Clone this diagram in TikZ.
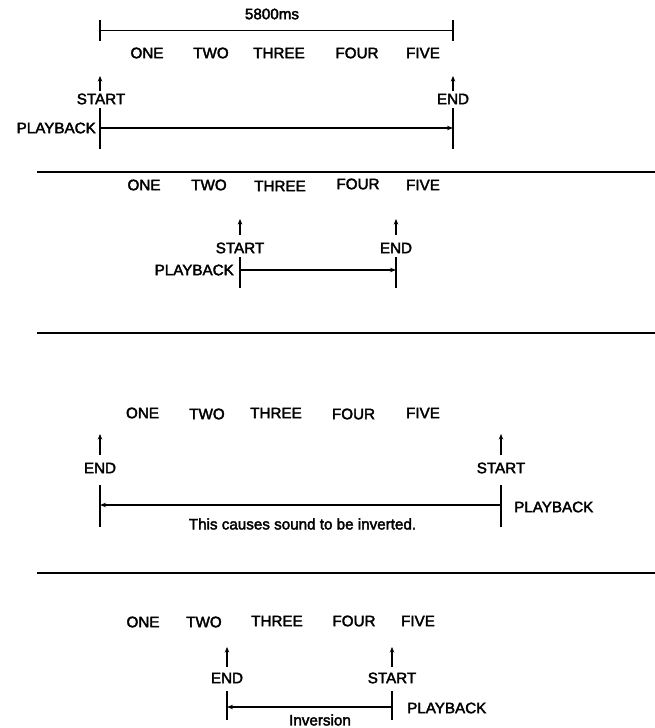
\documentclass[tikz,border=0pt]{standalone}
\usepackage{fontspec}
\setmainfont{Liberation Sans}
\newfontfamily\labelfont{Liberation Sans}[FakeBold=2.5]
\usetikzlibrary{arrows.meta}
\begin{document}
\begin{tikzpicture}[x=1pt,y=-1pt,
  lbl/.style={inner sep=0pt, font=\labelfont\fontsize{15.2}{17}\selectfont},
  tickline/.style={line width=1.3pt},
  scaleline/.style={line width=1pt},
  flow/.style={line width=1.3pt,-{Stealth[length=6pt,width=4.5pt]}},
  uparrow/.style={line width=1.3pt,-{Stealth[length=5.5pt,width=4.5pt]}},
  sepline/.style={line width=1.4pt}]
\useasboundingbox (0,0) rectangle (655,728);

% ---------- Panel 1 ----------
\node[lbl] (ms) at (272,14) {5800ms};
\coordinate (t1lt) at (100,20); \coordinate (t1lb) at (100,41);
\coordinate (t1rt) at (453,20); \coordinate (t1rb) at (453,41);
\coordinate (t1l) at (100,30); \coordinate (t1r) at (453,30);
\draw[tickline] (t1lt) -- (t1lb);
\draw[tickline] (t1rt) -- (t1rb);
\draw[scaleline] (t1l) -- (t1r);
\node[lbl] (p1one) at (147,53) {ONE};
\node[lbl] (p1two) at (211,53) {TWO};
\node[lbl] (p1three) at (279,53) {THREE};
\node[lbl] (p1four) at (357,53) {FOUR};
\node[lbl] (p1five) at (423,53) {FIVE};
\node[lbl] (p1start) at (101,99) {START};
\node[lbl] (p1end) at (453,99) {END};
\coordinate (u1a) at (100,91); \coordinate (u1at) at (100,76);
\coordinate (u1b) at (453,91); \coordinate (u1bt) at (453,76);
\draw[uparrow] (u1a) -- (u1at);
\draw[uparrow] (u1b) -- (u1bt);
\coordinate (v1lt) at (100,108); \coordinate (v1lb) at (100,149);
\coordinate (v1rt) at (453,108); \coordinate (v1rb) at (453,149);
\draw[tickline] (v1lt) -- (v1lb);
\draw[tickline] (v1rt) -- (v1rb);
\coordinate (f1s) at (100,128); \coordinate (f1e) at (453,128);
\draw[flow] (f1s) -- (f1e);
\node[lbl, anchor=east] (p1pb) at (96,128) {PLAYBACK};

\coordinate (sep1l) at (37,172); \coordinate (sep1r) at (655,172);
\draw[sepline] (sep1l) -- (sep1r);

% ---------- Panel 2 ----------
\node[lbl] (p2one) at (144,185) {ONE};
\node[lbl] (p2two) at (209,185) {TWO};
\node[lbl] (p2three) at (280,186) {THREE};
\node[lbl] (p2four) at (358,184) {FOUR};
\node[lbl] (p2five) at (423,185) {FIVE};
\coordinate (u2a) at (240,235); \coordinate (u2at) at (240,219);
\coordinate (u2b) at (396,235); \coordinate (u2bt) at (396,219);
\draw[uparrow] (u2a) -- (u2at);
\draw[uparrow] (u2b) -- (u2bt);
\node[lbl] (p2start) at (240,248) {START};
\node[lbl] (p2end) at (396,248) {END};
\coordinate (v2lt) at (240,257); \coordinate (v2lb) at (240,288);
\coordinate (v2rt) at (396,257); \coordinate (v2rb) at (396,288);
\draw[tickline] (v2lt) -- (v2lb);
\draw[tickline] (v2rt) -- (v2rb);
\coordinate (f2s) at (240,270); \coordinate (f2e) at (396,270);
\draw[flow] (f2s) -- (f2e);
\node[lbl, anchor=east] (p2pb) at (234,270) {PLAYBACK};

\coordinate (sep2l) at (37,333); \coordinate (sep2r) at (655,333);
\draw[sepline] (sep2l) -- (sep2r);

% ---------- Panel 3 ----------
\node[lbl] (p3one) at (142.5,413) {ONE};
\node[lbl] (p3two) at (207,414) {TWO};
\node[lbl] (p3three) at (276,413) {THREE};
\node[lbl] (p3four) at (353.5,414) {FOUR};
\node[lbl] (p3five) at (423,413) {FIVE};
\coordinate (u3a) at (100,455); \coordinate (u3at) at (100,434);
\coordinate (u3b) at (501,455); \coordinate (u3bt) at (501,434);
\draw[uparrow] (u3a) -- (u3at);
\draw[uparrow] (u3b) -- (u3bt);
\node[lbl] (p3end) at (100,468) {END};
\node[lbl] (p3start) at (501,468) {START};
\coordinate (v3lt) at (100,485); \coordinate (v3lb) at (100,527);
\coordinate (v3rt) at (501,485); \coordinate (v3rb) at (501,527);
\draw[tickline] (v3lt) -- (v3lb);
\draw[tickline] (v3rt) -- (v3rb);
\coordinate (f3s) at (501,505); \coordinate (f3e) at (100,505);
\draw[flow] (f3s) -- (f3e);
\node[lbl, anchor=west] (p3pb) at (514,507) {PLAYBACK};
\node[lbl] (p3txt) at (302.5,524) {This causes sound to be inverted.};

\coordinate (sep3l) at (37,573); \coordinate (sep3r) at (655,573);
\draw[sepline] (sep3l) -- (sep3r);

% ---------- Panel 4 ----------
\node[lbl] (p4one) at (143,622) {ONE};
\node[lbl] (p4two) at (204,622) {TWO};
\node[lbl] (p4three) at (277,621) {THREE};
\node[lbl] (p4four) at (354,621) {FOUR};
\node[lbl] (p4five) at (418,621) {FIVE};
\coordinate (u4a) at (227,667); \coordinate (u4at) at (227,647);
\coordinate (u4b) at (392,667); \coordinate (u4bt) at (392,647);
\draw[uparrow] (u4a) -- (u4at);
\draw[uparrow] (u4b) -- (u4bt);
\node[lbl] (p4end) at (227,678) {END};
\node[lbl] (p4start) at (392,678) {START};
\coordinate (v4lt) at (227,691); \coordinate (v4lb) at (227,720);
\coordinate (v4rt) at (392,691); \coordinate (v4rb) at (392,720);
\draw[tickline] (v4lt) -- (v4lb);
\draw[tickline] (v4rt) -- (v4rb);
\coordinate (f4s) at (392,707); \coordinate (f4e) at (227,707);
\draw[flow] (f4s) -- (f4e);
\node[lbl, anchor=west] (p4pb) at (407,708) {PLAYBACK};
\node[lbl] (p4txt) at (320,720) {Inversion};
\end{tikzpicture}
\end{document}
